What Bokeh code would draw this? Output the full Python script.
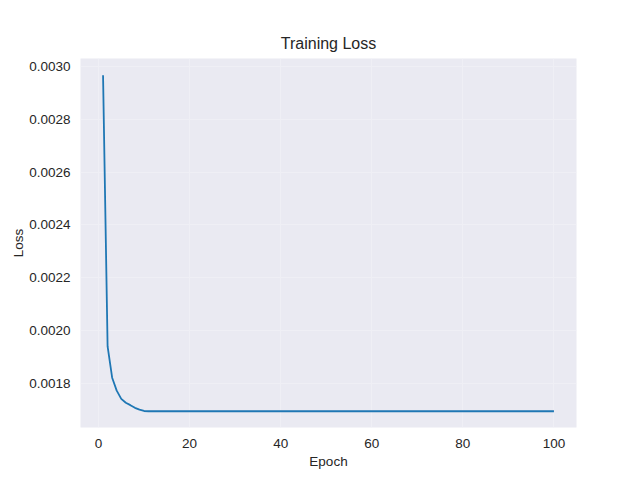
from bokeh.plotting import figure
from bokeh.models import Range1d, FixedTicker, PrintfTickFormatter
from bokeh.embed import file_html
from bokeh.resources import INLINE

epochs = list(range(1, 101))
loss = [
    0.002966, 0.001940, 0.001822, 0.001773, 0.001742, 0.001727, 0.001718, 0.001708, 0.001701, 0.001696,
    0.001695, 0.001695, 0.001695, 0.001695, 0.001695, 0.001695, 0.001695, 0.001695, 0.001695, 0.001695,
    0.001695, 0.001695, 0.001695, 0.001695, 0.001695, 0.001695, 0.001695, 0.001695, 0.001695, 0.001695,
    0.001695, 0.001695, 0.001695, 0.001695, 0.001695, 0.001695, 0.001695, 0.001695, 0.001695, 0.001695,
    0.001695, 0.001695, 0.001695, 0.001695, 0.001695, 0.001695, 0.001695, 0.001695, 0.001695, 0.001695,
    0.001695, 0.001695, 0.001695, 0.001695, 0.001695, 0.001695, 0.001695, 0.001695, 0.001695, 0.001695,
    0.001695, 0.001695, 0.001695, 0.001695, 0.001695, 0.001695, 0.001695, 0.001695, 0.001695, 0.001695,
    0.001695, 0.001695, 0.001695, 0.001695, 0.001695, 0.001695, 0.001695, 0.001695, 0.001695, 0.001695,
    0.001695, 0.001695, 0.001695, 0.001695, 0.001695, 0.001695, 0.001695, 0.001695, 0.001695, 0.001695,
    0.001695, 0.001695, 0.001695, 0.001695, 0.001695, 0.001695, 0.001695, 0.001695, 0.001695, 0.001695,
]
x_ticks = [0, 20, 40, 60, 80, 100]
y_ticks = [0.0018, 0.0020, 0.0022, 0.0024, 0.0026, 0.0028, 0.0030]

FONT = "Liberation Sans"

p = figure(
    output_backend="svg", toolbar_location=None,
    frame_width=496, frame_height=369,
    min_border_left=80, min_border_right=56, min_border_top=58, min_border_bottom=45,
    x_range=Range1d(-3.95, 104.95), y_range=Range1d(0.0016335, 0.0030295),
    title="Training Loss",
)
p.background_fill_color = "#EAEAF2"
p.border_fill_color = "white"
p.outline_line_color = None

p.title.align = "center"
p.title.text_font = FONT
p.title.text_font_size = "16px"
p.title.text_font_style = "normal"
p.title.text_color = "#262626"
p.title.standoff = 13

p.line(epochs, loss, line_color="#1f77b4", line_width=1.8)

p.xaxis.ticker = FixedTicker(ticks=x_ticks)
p.yaxis.ticker = FixedTicker(ticks=y_ticks)
p.yaxis.formatter = PrintfTickFormatter(format="%.4f")
p.xaxis.axis_label = "Epoch"
p.yaxis.axis_label = "Loss"

for ax in (p.xaxis, p.yaxis):
    ax.axis_line_color = None
    ax.major_tick_line_color = None
    ax.minor_tick_line_color = None
    ax.major_label_text_font = FONT
    ax.major_label_text_font_size = "13.5px"
    ax.major_label_text_color = "#262626"
    ax.axis_label_text_font = FONT
    ax.axis_label_text_font_size = "13.5px"
    ax.axis_label_text_font_style = "normal"
    ax.axis_label_text_color = "#262626"

p.yaxis.major_label_standoff = 4
p.xaxis.major_label_standoff = 5
p.xaxis.axis_label_standoff = 3
p.yaxis.axis_label_standoff = 0

p.grid.grid_line_color = "#EFEFF5"
p.grid.grid_line_width = 1

open("out.html", "w").write(file_html(p, INLINE))
